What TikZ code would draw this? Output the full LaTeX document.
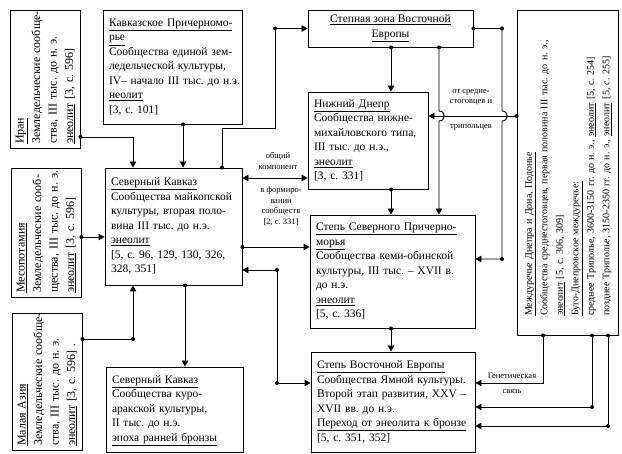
\documentclass[tikz,border=0pt]{standalone}
\usepackage{fontspec}
\setmainfont{Liberation Serif}
\newcommand\ulx[1]{\underline{#1}}
\newcommand\tb[1]{\begin{tabular}{@{}l@{}}#1\end{tabular}}
\usetikzlibrary{arrows.meta}
\frenchspacing
\begin{document}
\frenchspacing
\begin{tikzpicture}[x=1pt,y=-1pt,
  box/.style={draw, line width=0.9pt, inner xsep=6pt, inner ysep=2pt, align=left, font=\fontsize{11.5}{14.5}\selectfont\frenchspacing},
  rbox/.style={box, rotate=90, inner xsep=4pt, font=\fontsize{12}{16.5}\selectfont\frenchspacing},
  ln/.style={line width=0.9pt},
  arr/.style={ln, -{Triangle[length=6pt,width=6.5pt]}},
  darr/.style={ln, {Triangle[length=6pt,width=6.5pt]}-{Triangle[length=6pt,width=6.5pt]}},
  lbl/.style={font=\fontsize{8.5}{10.5}\selectfont\frenchspacing, align=center, inner sep=0pt}]
\useasboundingbox (0,0) rectangle (622,454);

% boxes
\node[rbox, minimum width=138pt, minimum height=68pt, text width=130pt] (iran) at (45,79)
 {\tb{\ulx{Иран}\\Земледельческие сообще-\\ства, III тыс. до н. э.\\\ulx{энеолит} [3, с. 596]}};
\node[box, minimum width=139pt, minimum height=114pt, text width=127pt] (kp) at (172.5,67)
 {\tb{\ulx{Кавказское Причерномо-}\\\ulx{рье}\\Сообщества единой зем-\\ледельческой культуры,\\IV– начало III тыс. до н.э.\\\ulx{неолит}\\{}[3, с. 101]}};
\node[box, align=center, minimum width=165pt, minimum height=37pt] (stz) at (390.5,28.5)
 {\ulx{Степная зона Восточной}\\\ulx{Европы}};
\node[rbox, inner xsep=19pt, font=\fontsize{10}{15.5}\selectfont\frenchspacing, minimum width=325pt, minimum height=101pt, text width=287pt] (mezh) at (567.5,172.5)
 {\tb{\ulx{Междуречье Днепра и Дона, Подонье}\\Сообщества среднестоговцев, первая половина III тыс. до н. э.,\\\ulx{энеолит} [5, с. 306, 309]\\\ulx{Буго-Днепровское междуречье:}\\среднее Триполье, 3600-3150 гг. до н. э., \ulx{энеолит} [5, с. 254]\\позднее Триполье, 3150-2350 гг. до н. э., \ulx{энеолит} [5, с. 255]}};
\node[box, minimum width=120pt, minimum height=97pt, text width=108pt] (nd) at (368,140.5)
 {\tb{\ulx{Нижний Днепр}\\Сообщества нижне-\\михайловского типа,\\III тыс. до н.э.,\\\ulx{энеолит}\\{}[3, с. 331]}};
\node[rbox, minimum width=129pt, minimum height=68pt, text width=121pt] (meso) at (46,232.5)
 {\tb{\ulx{Месопотамия}\\Земледельческие сооб-\\щества, III тыс. до н. э.\\\ulx{энеолит} [3, с. 596]}};
\node[box, minimum width=137pt, minimum height=117pt, text width=125pt] (sk) at (173.5,226.5)
 {\tb{\ulx{Северный Кавказ}\\Сообщества майкопской\\культуры, вторая поло-\\вина III тыс. до н.э.\\\ulx{энеолит}\\{}[5, с. 96, 129, 130, 326,\\328, 351]}};
\node[box, minimum width=165pt, minimum height=113pt, text width=153pt] (sscp) at (392.5,271.5)
 {\tb{\ulx{Степь Северного Причерно-}\\\ulx{морья}\\Сообщества кеми-обинской\\культуры, III тыс. – XVII в.\\до н.э.\\\ulx{энеолит}\\{}[5, с. 336]}};
\node[rbox, minimum width=137pt, minimum height=68pt, text width=129pt] (ma) at (47,381.5)
 {\tb{\ulx{Малая Азия}\\Земледельческие сообще-\\ства, III тыс. до н. э.\\\ulx{энеолит} [3, с. 596] .}};
\node[box, minimum width=137pt, minimum height=85pt, text width=125pt] (ska) at (174.5,409.5)
 {\tb{\ulx{Северный Кавказ}\\Сообщества куро-\\аракской культуры,\\II тыс. до н.э.\\\ulx{эпоха ранней бронзы}}};
\node[box, minimum width=164pt, minimum height=100pt, text width=152pt] (sve) at (393,402)
 {\tb{\ulx{Степь Восточной Европы}\\Сообщества Ямной культуры.\\Второй этап развития, XXV –\\XVII вв. до н.э.\\\ulx{Переход от энеолита к бронзе}\\{}[5, с. 351, 352]}};

% labels
\node[lbl] (l1) at (471,97.5) {от средне-\\стоговцев и};
\node[lbl] (l2) at (471,127) {трипольцев};
\node[lbl] (l3) at (278,161) {общий\\компонент};
\node[lbl] (l4) at (281,206) {в формиро-\\вании\\сообществ\\{}[2, с. 331]};
\node[lbl] (l5) at (512,376) {Генетическая};
\node[lbl] (l6) at (512,392) {связь};

% connectors
\draw[arr] (iran.south |- 0,137) -| (sk.north -| 133,0);
\fill (iran.south |- 0,137) circle[radius=2pt];
\draw[arr] (kp.south -| 183,0) -- (sk.north -| 183,0);
\fill (kp.south -| 183,0) circle[radius=2pt];
\draw[arr] (sk.north -| 222,0) -- (222,128) -- (275,128) -- (275,28.5) -- (stz.west);
\fill (sk.north -| 222,0) circle[radius=2pt] (275,28.5) circle[radius=2pt];
\draw[arr] (stz.east) -- (502,28.5) -- (502,111) .. controls (509,111) and (509,121) .. (502,121) -- (502,259) -- (sscp.east |- 0,259);
\fill (stz.east) circle[radius=2pt] (502,28.5) circle[radius=2pt] (502,259) circle[radius=2pt];
\draw[arr] (stz.south -| 391,0) -- (nd.north -| 391,0);
\fill (stz.south -| 391,0) circle[radius=2pt];
\draw[arr] (stz.south -| 439,0) -- (439,111) .. controls (446,111) and (446,121) .. (439,121) -- (sscp.north -| 439,0);
\fill (stz.south -| 439,0) circle[radius=2pt];
\draw[arr] (mezh.north |- 0,116) -- (nd.east |- 0,116);
\fill (mezh.north |- 0,116) circle[radius=2pt];
\draw[darr] (sk.east |- 0,178) -- (nd.west |- 0,178);
\draw[arr] (sk.east |- 0,247) -- (sscp.west |- 0,247);
\fill (sk.east |- 0,247) circle[radius=2pt];
\draw[darr] (sk.east |- 0,270) -- (277,270) -- (277,383) -- (sve.west |- 0,383);
\fill (277,270) circle[radius=2pt] (277,383) circle[radius=2pt];
\draw[arr] (meso.south |- 0,237) -- (sk.west |- 0,237);
\fill (meso.south |- 0,237) circle[radius=2pt];
\draw[arr] (ma.south |- 0,339) -- (133,339) -- (sk.south -| 133,0);
\fill (ma.south |- 0,339) circle[radius=2pt] (133,339) circle[radius=2pt];
\draw[arr] (sk.south -| 185,0) -- (ska.north -| 185,0);
\fill (sk.south -| 185,0) circle[radius=2pt];
\draw[arr] (nd.south -| 391,0) -- (sscp.north -| 391,0);
\fill (nd.south -| 391,0) circle[radius=2pt];
\draw[arr] (sscp.south -| 391,0) -- (sve.north -| 391,0);
\fill (sscp.south -| 391,0) circle[radius=2pt];
\draw[arr] (mezh.west -| 543,0) -- (543,383) -- (sve.east |- 0,383);
\fill (mezh.west -| 543,0) circle[radius=2pt];
\draw[arr] (mezh.west -| 592,0) -- (592,407) -- (sve.east |- 0,407);
\fill (mezh.west -| 592,0) circle[radius=2pt] (592,407) circle[radius=2pt];
\draw[arr] (mezh.west -| 608,0) -- (608,426) -- (sve.east |- 0,426);
\fill (mezh.west -| 608,0) circle[radius=2pt] (608,426) circle[radius=2pt];
\end{tikzpicture}
\end{document}
